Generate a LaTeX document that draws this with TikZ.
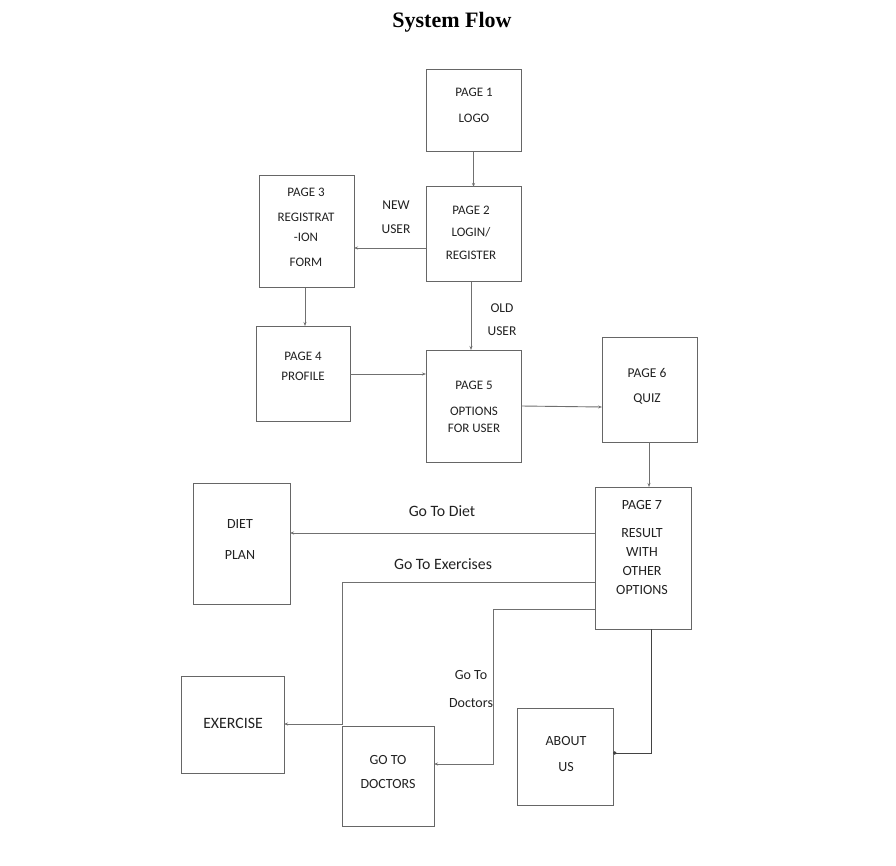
\documentclass[tikz,border=0pt]{standalone}
\usepackage{fontspec}
\setmainfont{Liberation Serif}
\newfontfamily\carlitofont{Carlito}
\usetikzlibrary{arrows.meta,calc}
\definecolor{edge}{HTML}{666666}
\definecolor{ln}{HTML}{707070}
\definecolor{tx}{HTML}{222222}
\tikzset{
  box/.style={draw=edge, line width=1pt, inner sep=0pt, outer sep=0pt, fill=white},
  lbl/.style={font=\carlitofont\fontsize{13}{15}\selectfont, text=tx, inner sep=0pt},
  mlbl/.style={font=\carlitofont\fontsize{13.5}{15}\selectfont, text=tx, inner sep=0pt},
  blbl/.style={font=\carlitofont\fontsize{14}{16}\selectfont, text=tx, inner sep=0pt},
  elbl/.style={font=\carlitofont\fontsize{15.8}{18}\selectfont, text=tx, inner sep=0pt},
  arr/.style={draw=ln, line width=0.9pt, -{Stealth[length=4pt,width=3pt]}},
  dotarr/.style={draw=ln!60!black, line width=0.9pt, -{Circle[length=3.5pt]}},
}
\begin{document}
\begin{tikzpicture}[x=1pt,y=-1pt]
\useasboundingbox (0,0) rectangle (896,866);
\fill[white] (0,0) rectangle (896,866);
\node[font=\bfseries\fontsize{22}{24}\selectfont] (title) at (452,22) {System Flow};

% boxes
\node[box, minimum width=95pt, minimum height=82pt] (p1) at (473.5,111) {};
\node[box, minimum width=95pt, minimum height=95pt] (p2) at (473.5,234.5) {};
\node[box, minimum width=95pt, minimum height=112pt] (p3) at (306.5,232) {};
\node[box, minimum width=94pt, minimum height=95pt] (p4) at (303,373.5) {};
\node[box, minimum width=95pt, minimum height=112pt] (p5) at (473.5,406) {};
\node[box, minimum width=95pt, minimum height=105pt] (p6) at (649.5,389.5) {};
\node[box, minimum width=96pt, minimum height=142pt] (p7) at (643,558) {};
\node[box, minimum width=97pt, minimum height=121pt] (diet) at (241.5,543.5) {};
\node[box, minimum width=103pt, minimum height=97pt] (ex) at (232.5,724.5) {};
\node[box, minimum width=92pt, minimum height=100pt] (doc) at (388,776) {};
\node[box, minimum width=96pt, minimum height=97pt] (about) at (565,756.5) {};

% box texts
\node[lbl] (t1a) at (474,92) {PAGE 1};
\node[lbl] (t1b) at (474,118) {LOGO};
\node[lbl] (t2a) at (471,210) {PAGE 2};
\node[lbl] (t2b) at (471,232) {LOGIN/};
\node[lbl] (t2c) at (471,255) {REGISTER};
\node[lbl] (t3a) at (306,192) {PAGE 3};
\node[lbl] (t3b) at (306,217) {REGISTRAT};
\node[lbl] (t3c) at (306,237) {-ION};
\node[lbl] (t3d) at (306,262) {FORM};
\node[lbl] (t4a) at (303,356) {PAGE 4};
\node[lbl] (t4b) at (303,376) {PROFILE};
\node[lbl] (t5a) at (474,385) {PAGE 5};
\node[lbl] (t5b) at (474,411) {OPTIONS};
\node[lbl] (t5c) at (474,428) {FOR USER};
\node[mlbl] (t6a) at (647,373) {PAGE 6};
\node[mlbl] (t6b) at (647,399) {QUIZ};
\node[blbl] (t7a) at (642,505) {PAGE 7};
\node[blbl] (t7b) at (642,533) {RESULT};
\node[blbl] (t7c) at (642,552) {WITH};
\node[blbl] (t7d) at (642,571) {OTHER};
\node[blbl] (t7e) at (642,590) {OPTIONS};
\node[blbl] (tda) at (240,524) {DIET};
\node[blbl] (tdb) at (240,555) {PLAN};
\node[elbl] (tex) at (233,723) {EXERCISE};
\node[blbl] (tga) at (388,760) {GO TO};
\node[blbl] (tgb) at (388,784) {DOCTORS};
\node[blbl] (taa) at (566,741) {ABOUT};
\node[blbl] (tab) at (566,767) {US};

% edge labels
\node[mlbl] (nu1) at (396,205) {NEW};
\node[mlbl] (nu2) at (396,229) {USER};
\node[mlbl] (ou1) at (502,308) {OLD};
\node[mlbl] (ou2) at (502,331) {USER};
\node[elbl] (gdiet) at (442,511) {Go To Diet};
\node[elbl] (gex) at (443,564) {Go To Exercises};
\node[blbl] (gdoc1) at (471,675) {Go To};
\node[blbl] (gdoc2) at (471,703) {Doctors};

% bend points
\coordinate (b1) at (342,582);
\coordinate (b2) at (342,724);
\coordinate (c1) at (493,609);
\coordinate (c2) at (493,764);
\coordinate (d1) at (651,753);

% connectors
\draw[arr] (p1.south) -- (p2.north);
\draw[arr] ($(p2.west)+(0,13.5)$) -- ($(p3.east)+(0,16)$);
\draw[arr] ($(p3.south)+(-1.5,0)$) -- ($(p4.north)+(2,0)$);
\draw[arr] ($(p2.south)+(-2.5,0)$) -- ($(p5.north)+(-2.5,0)$);
\draw[arr] ($(p4.east)+(0,0.5)$) -- ($(p5.west)+(0,-32)$);
\draw[arr] (p5.east) -- ($(p6.west)+(0,17.5)$);
\draw[arr] ($(p6.south)+(-0.5,0)$) -- ($(p7.north)+(6,0)$);
\draw[arr] ($(p7.west)+(0,-25)$) -- ($(diet.east)+(0,-10.5)$);
\draw[arr] ($(p7.west)+(0,24)$) -- (b1) -- (b2) -- (ex.east |- b2);
\draw[arr] ($(p7.west)+(0,51)$) -- (c1) -- (c2) -- (doc.east |- c2);
\draw[dotarr] ($(p7.south)+(8,0)$) -- (d1) -- (about.east |- d1);
\end{tikzpicture}
\end{document}
